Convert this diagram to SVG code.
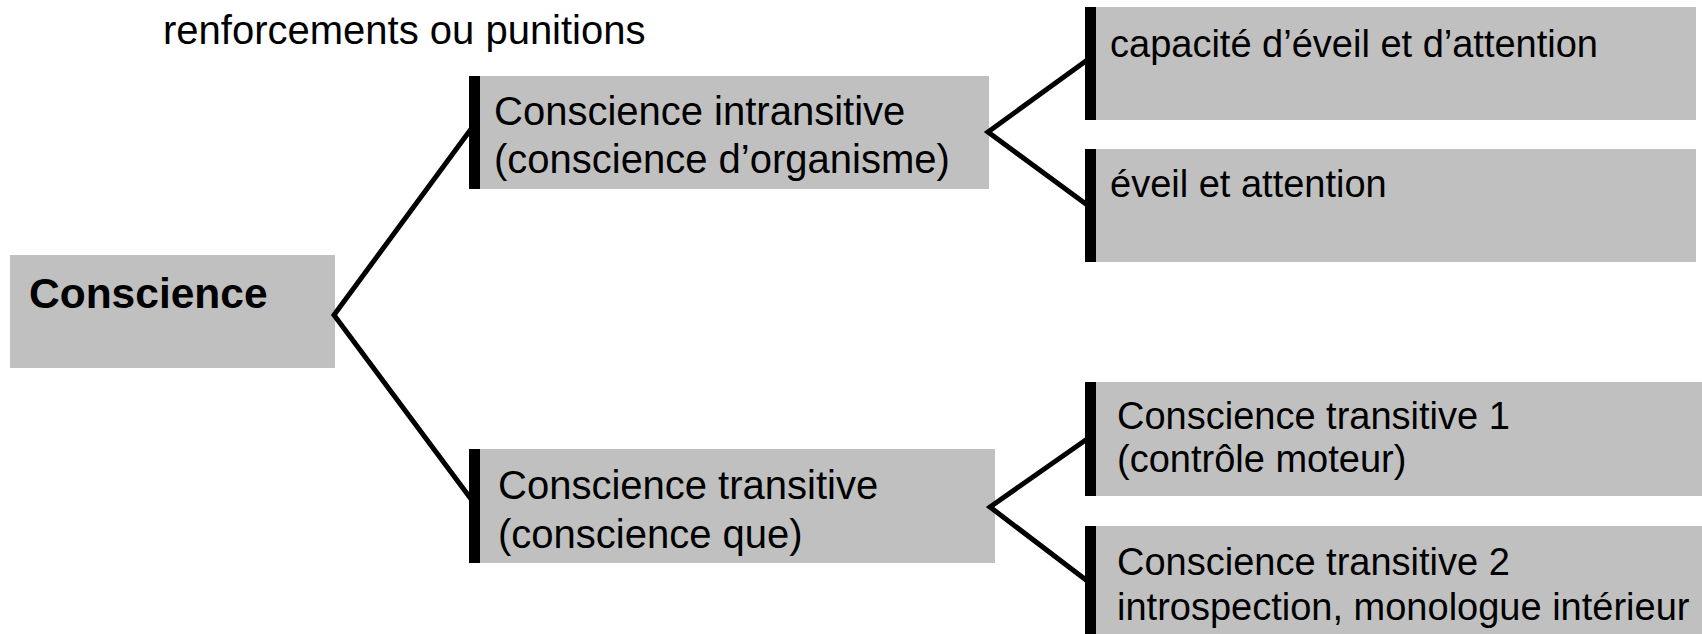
<svg xmlns="http://www.w3.org/2000/svg" width="1702" height="634" viewBox="0 0 1702 634">
<style>
.box{fill:#C0C0C0}
.bar{fill:#000}
.t{font-family:"Liberation Sans",Arial,sans-serif;font-size:40px;fill:#000}
.s{font-family:"Liberation Sans",Arial,sans-serif;font-size:38px;fill:#000}
.b{font-family:"Liberation Sans",Arial,sans-serif;font-size:42.5px;font-weight:bold;fill:#000}
.c{fill:none;stroke:#000;stroke-width:5;stroke-linejoin:miter}
</style>
<rect width="1702" height="634" fill="#fff"/>
<text class="t" x="163" y="44">renforcements ou punitions</text>
<g id="n-conscience">
<rect class="box" x="10" y="255" width="325" height="113"/>
<text class="b" x="29" y="308">Conscience</text>
</g>
<g id="n-intransitive">
<rect class="box" x="469" y="76" width="520" height="113"/>
<rect class="bar" x="469" y="76" width="11" height="113"/>
<text class="t" x="494" y="125">Conscience intransitive</text>
<text class="t" x="494" y="173">(conscience d’organisme)</text>
</g>
<g id="n-capacite">
<rect class="box" x="1085" y="7" width="611" height="113"/>
<rect class="bar" x="1085" y="7" width="11" height="113"/>
<text class="s" x="1110" y="57">capacité d’éveil et d’attention</text>
</g>
<g id="n-eveil">
<rect class="box" x="1085" y="149" width="611" height="113"/>
<rect class="bar" x="1085" y="149" width="11" height="113"/>
<text class="s" x="1110" y="197">éveil et attention</text>
</g>
<g id="n-transitive">
<rect class="box" x="469" y="449" width="526" height="114"/>
<rect class="bar" x="469" y="449" width="11" height="114"/>
<text class="t" x="498" y="499">Conscience transitive</text>
<text class="t" x="498" y="548">(conscience que)</text>
</g>
<g id="n-t1">
<rect class="box" x="1085" y="382" width="617" height="114"/>
<rect class="bar" x="1085" y="382" width="11" height="114"/>
<text class="s" x="1117" y="429">Conscience transitive 1</text>
<text class="s" x="1117" y="472">(contrôle moteur)</text>
</g>
<g id="n-t2">
<rect class="box" x="1085" y="526" width="617" height="114"/>
<rect class="bar" x="1085" y="526" width="11" height="114"/>
<text class="s" x="1117" y="575">Conscience transitive 2</text>
<text class="s" x="1117" y="620">introspection, monologue intérieur</text>
</g>
<g id="connectors">
<polyline class="c" points="474,125 334,315 474,503"/>
<polyline class="c" points="1090,58 988,132 1090,207"/>
<polyline class="c" points="1090,437 990,507 1090,583"/>
</g>
</svg>
